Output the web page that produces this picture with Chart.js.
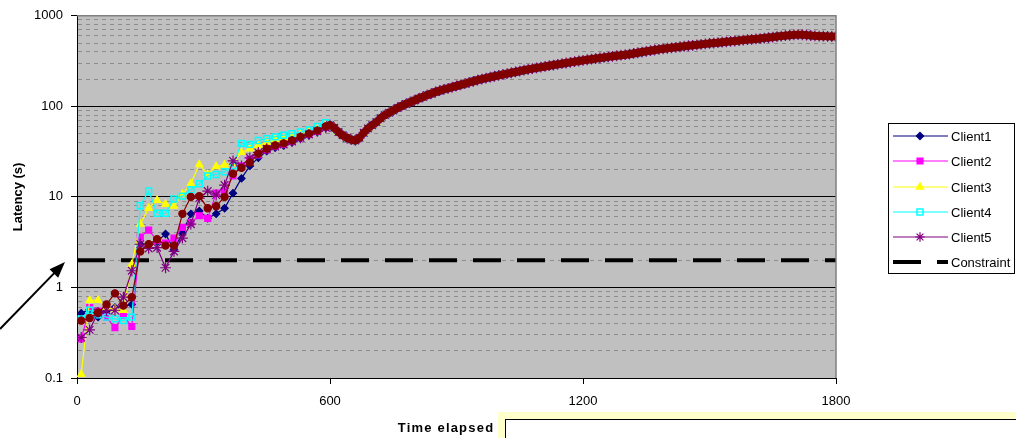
<!DOCTYPE html>
<html>
<head>
<meta charset="utf-8">
<script src="https://cdn.jsdelivr.net/npm/chart.js@4.4.0/dist/chart.umd.min.js"></script>
<style>
  html, body { margin: 0; padding: 0; background: #fff; }
  canvas { display: block; }
</style>
</head>
<body>
<canvas id="my-canvas" width="1016" height="438"></canvas>
<script>
// sample times (s) of the early, per-client part
const earlyTimes = [10, 30, 50, 70, 90, 110, 130, 150, 170, 190, 210, 230, 250, 270, 290,
  310, 330, 350, 370, 390, 410, 430, 450, 470, 490, 510, 530, 550, 570, 590]

// latency per client (s) at earlyTimes
const client1Early = [0.52, 0.57, 0.47, 0.55, 0.60, 0.62, 0.65, 3.0, 3.0, 3.2, 3.9, 2.6, 4.0, 6.5, 7.0,
  5.8, 6.5, 7.5, 11, 16, 22, 27, 32, 35, 37, 40, 44, 48, 52, 58]
const client2Early = [0.27, 0.60, 0.55, 0.47, 0.36, 0.49, 0.37, 3.6, 4.3, 3.3, 3.1, 3.5, 4.6, 5.2, 6.2,
  5.8, 11, 11.6, 17, 22, 26, 29, 33, 36, 38, 41, 45, 49, 53, 59]
const client3Early = [0.11, 0.72, 0.72, 0.60, 0.58, 0.56, 1.8, 5.0, 7.5, 9.2, 8.3, 7.9, 10.7, 14, 22.8,
  17.7, 21.7, 22.5, 23.4, 31, 34, 37, 40, 43, 44, 46, 49, 52, 56, 62]
const client4Early = [0.45, 0.56, 0.50, 0.47, 0.45, 0.43, 0.47, 8.0, 11.6, 6.6, 6.6, 9.5, 10.2, 12, 14,
  17, 17.7, 19, 22, 39, 38, 42, 44, 46, 48, 50, 52, 55, 60, 66]
const client5Early = [0.28, 0.34, 0.53, 0.56, 0.56, 0.78, 1.53, 3.0, 2.7, 2.75, 1.65, 2.5, 3.5, 5.0, 9.7,
  11.6, 10.5, 13.5, 25, 22, 27, 31, 34, 36, 38, 41, 45, 49, 53, 58]
const client6Early = [0.43, 0.46, 0.53, 0.65, 0.86, 0.63, 0.78, 2.5, 3.0, 3.4, 2.9, 2.9, 6.5, 10, 10.2,
  7.5, 7.9, 10, 18, 21, 24, 30, 34, 37, 39, 42, 46, 50, 54, 60]

// after ~600 s every client follows the same curve
const tailTimes = [600, 610, 620, 630, 640, 650, 660, 670, 680, 690,
  700, 710, 720, 730, 740, 750, 760, 770, 780, 790,
  800, 810, 820, 830, 840, 850, 860, 870, 880, 890,
  900, 910, 920, 930, 940, 950, 960, 970, 980, 990,
  1000, 1010, 1020, 1030, 1040, 1050, 1060, 1070, 1080, 1090,
  1100, 1110, 1120, 1130, 1140, 1150, 1160, 1170, 1180, 1190,
  1200, 1210, 1220, 1230, 1240, 1250, 1260, 1270, 1280, 1290,
  1300, 1310, 1320, 1330, 1340, 1350, 1360, 1370, 1380, 1390,
  1400, 1410, 1420, 1430, 1440, 1450, 1460, 1470, 1480, 1490,
  1500, 1510, 1520, 1530, 1540, 1550, 1560, 1570, 1580, 1590,
  1600, 1610, 1620, 1630, 1640, 1650, 1660, 1670, 1680, 1690,
  1700, 1710, 1720, 1730, 1740, 1750, 1760, 1770, 1780, 1790, 1800]
const tailValues = [62, 58, 52, 48, 45, 43, 42, 45, 51, 57,
  62, 67, 74, 80, 85, 90, 96, 101, 106, 111,
  116, 122, 127, 133, 138, 144, 149, 154, 158, 163,
  168, 173, 178, 184, 189, 195, 200, 205, 210, 215,
  220, 225, 230, 235, 240, 245, 251, 256, 261, 266,
  271, 276, 281, 286, 291, 296, 301, 306, 312, 317,
  322, 327, 332, 337, 342, 347, 352, 357, 362, 367,
  372, 377, 384, 391, 398, 405, 412, 419, 426, 432,
  438, 443, 449, 455, 461, 467, 472, 478, 484, 490,
  495, 500, 505, 511, 516, 522, 527, 533, 539, 545,
  550, 555, 561, 568, 575, 582, 590, 597, 604, 610,
  616, 620, 618, 612, 606, 600, 597, 595, 593, 591, 590]

const constraintTimes = [0, 1800]
const constraintValues = [2, 2]

const xTickValues = [0, 600, 1200, 1800]
const xTickLabels = ['0', '600', '1200', '1800']
const yTickValues = [0.1, 1, 10, 100, 1000]
const yTickLabels = ['0.1', '1', '10', '100', '1000']

window.onload = () => {

    const canvas = document.querySelector('#my-canvas')
    const ctx = canvas.getContext('2d')
    const fontFamily = "'Liberation Sans', Arial, sans-serif"

    // 1,2,..9 x each decade, for the grid
    const yGridValues = []
    for (let i = 0; i < yTickValues.length - 1; i++) {
        for (let m = 1; m < 10; m++) {
            yGridValues.push(Number((yTickValues[i] * m).toPrecision(3)))
        }
    }
    yGridValues.push(1000)
    const isMajor = (v) => yTickValues.indexOf(v) >= 0

    const allTimes = earlyTimes.concat(tailTimes)
    const points = (values, xs) => values.map((v, i) => ({ x: xs[i], y: v }))

    const series = [
        { label: 'Client1', early: client1Early, color: '#000080', style: 'rectRot', radius: 3.6, fill: '#000080' },
        { label: 'Client2', early: client2Early, color: '#FF00FF', style: 'rect', radius: 4.2, fill: '#FF00FF' },
        { label: 'Client3', early: client3Early, color: '#FFFF00', style: 'triangle', radius: 4.2, fill: '#FFFF00' },
        { label: 'Client4', early: client4Early, color: '#00FFFF', style: 'rect', radius: 4.2, fill: 'rgba(0,0,0,0)' },
        { label: 'Client5', early: client5Early, color: '#800080', style: 'star', radius: 5.4, fill: '#800080' },
        { label: 'Client6', early: client6Early, color: '#800000', style: 'circle', radius: 3.6, fill: '#800000' }
    ]

    const datasets = series.map((s, i) => ({
        label: s.label,
        data: points(s.early.concat(tailValues), allTimes),
        borderColor: s.color,
        backgroundColor: s.fill,
        borderWidth: 1.2,
        pointStyle: s.style,
        pointRadius: s.radius,
        pointBorderColor: s.color,
        pointBackgroundColor: s.fill,
        pointBorderWidth: i === 3 ? 1.5 : 1.2,
        tension: 0,
        order: 10 - i
    }))

    datasets.push({
        label: 'Constraint',
        data: points(constraintValues, constraintTimes),
        borderColor: '#000',
        borderWidth: 4,
        borderDash: [28, 16],
        pointRadius: 0,
        order: 20
    })

    const legendItems = series.slice(0, 5).concat([{ label: 'Constraint', dashed: true }])

    const drawMarker = (c, s, x, y) => {
        c.save()
        c.fillStyle = s.fill
        c.strokeStyle = s.color
        c.lineWidth = s.style === 'rect' && s.fill.indexOf('rgba') === 0 ? 1.5 : 1.2
        if (Chart.helpers && Chart.helpers.drawPoint) {
            Chart.helpers.drawPoint(c, { pointStyle: s.style, radius: Math.min(s.radius, 4.8), rotation: 0, borderWidth: c.lineWidth }, x, y)
        } else {
            c.beginPath()
            c.arc(x, y, s.radius, 0, Math.PI * 2)
            c.fill()
            c.stroke()
        }
        c.restore()
    }

    const decor = {
        id: 'decor',
        beforeDraw(chart) {
            const a = chart.chartArea
            const c = chart.ctx
            c.save()
            c.fillStyle = '#C0C0C0'
            c.fillRect(a.left, a.top, a.right - a.left, a.bottom - a.top)
            c.restore()
        },
        afterDraw(chart) {
            const a = chart.chartArea
            const c = chart.ctx
            c.save()

            // frame top / right
            c.strokeStyle = '#808080'
            c.lineWidth = 1.5
            c.beginPath()
            c.moveTo(a.left, a.top)
            c.lineTo(a.right, a.top)
            c.lineTo(a.right, a.bottom)
            c.stroke()

            // legend
            c.fillStyle = '#fff'
            c.fillRect(888.5, 123.5, 126, 150)
            c.strokeStyle = '#000'
            c.lineWidth = 1
            c.strokeRect(888.5, 123.5, 126, 150)
            const rowY = [136, 161, 187, 212, 237, 262]
            c.font = '13px ' + fontFamily
            c.textBaseline = 'middle'
            c.textAlign = 'left'
            legendItems.forEach((s, i) => {
                const y = rowY[i]
                c.save()
                if (s.dashed) {
                    c.strokeStyle = '#000'
                    c.lineWidth = 4
                    c.setLineDash([28, 16])
                } else {
                    c.strokeStyle = s.color
                    c.lineWidth = 1.2
                }
                c.beginPath()
                c.moveTo(893, y)
                c.lineTo(948, y)
                c.stroke()
                c.restore()
                if (!s.dashed) drawMarker(c, s, 920, y)
                c.fillStyle = '#000'
                c.fillText(s.label, 951, y + 1)
            })

            // x axis title
            c.font = 'bold 13px ' + fontFamily
            c.fillStyle = '#000'
            c.textAlign = 'center'
            c.textBaseline = 'middle'
            if ('letterSpacing' in c) c.letterSpacing = '1.2px'
            c.fillText('Time elapsed', 446, 428)
            if ('letterSpacing' in c) c.letterSpacing = '0px'

            // note box under the chart
            c.fillStyle = '#FFFFCC'
            c.fillRect(498, 412, 518, 26)
            c.fillStyle = '#fff'
            c.fillRect(505.5, 419.5, 520, 30)
            c.strokeStyle = '#000'
            c.lineWidth = 1
            c.strokeRect(505.5, 419.5, 520, 30)

            // arrow
            c.strokeStyle = '#000'
            c.fillStyle = '#000'
            c.lineWidth = 2
            const x0 = 0, y0 = 329, x1 = 65, y1 = 262
            const ang = Math.atan2(y1 - y0, x1 - x0)
            c.beginPath()
            c.moveTo(x0, y0)
            c.lineTo(x1 - 12 * Math.cos(ang), y1 - 12 * Math.sin(ang))
            c.stroke()
            c.beginPath()
            c.moveTo(x1, y1)
            c.lineTo(x1 - 16 * Math.cos(ang) + 6 * Math.sin(ang), y1 - 16 * Math.sin(ang) - 6 * Math.cos(ang))
            c.lineTo(x1 - 16 * Math.cos(ang) - 6 * Math.sin(ang), y1 - 16 * Math.sin(ang) + 6 * Math.cos(ang))
            c.closePath()
            c.fill()

            c.restore()
        }
    }

    new Chart(ctx, {
        type: 'line',
        data: { datasets: datasets },
        plugins: [decor],
        options: {
            responsive: false,
            animation: false,
            layout: { padding: { left: 0, top: 13, right: 180, bottom: 0 } },
            plugins: {
                legend: { display: false },
                tooltip: { enabled: false }
            },
            scales: {
                x: {
                    type: 'linear',
                    min: 0,
                    max: 1800,
                    afterBuildTicks: (scale) => { scale.ticks = xTickValues.map(v => ({ value: v })) },
                    afterFit: (scale) => { scale.height = 60 },
                    grid: { drawOnChartArea: false, tickLength: 6, tickColor: '#000' },
                    border: { color: '#000', width: 1 },
                    ticks: {
                        color: '#000',
                        font: { family: fontFamily, size: 13 },
                        padding: 10,
                        maxRotation: 0,
                        autoSkip: false,
                        callback: (v) => xTickLabels[xTickValues.indexOf(v)]
                    },
                    title: { display: false }
                },
                y: {
                    type: 'logarithmic',
                    min: 0.1,
                    max: 1000,
                    afterBuildTicks: (scale) => { scale.ticks = yGridValues.map(v => ({ value: v })) },
                    afterFit: (scale) => { scale.width = 77 },
                    grid: {
                        color: (c) => c.tick && isMajor(c.tick.value) ? '#000' : '#8c8c8c',
                        tickColor: (c) => c.tick && isMajor(c.tick.value) ? '#000' : 'rgba(0,0,0,0)',
                        tickLength: 6,
                        lineWidth: 1
                    },
                    border: {
                        color: '#000',
                        width: 1,
                        dash: (c) => (c.tick && !isMajor(c.tick.value)) ? [4, 4] : []
                    },
                    ticks: {
                        color: '#000',
                        font: { family: fontFamily, size: 13 },
                        padding: 8,
                        autoSkip: false,
                        callback: (v) => isMajor(v) ? yTickLabels[yTickValues.indexOf(v)] : ''
                    },
                    title: {
                        display: true,
                        text: 'Latency (s)',
                        color: '#000',
                        font: { family: fontFamily, size: 13, weight: 'bold' },
                        padding: { top: 11, bottom: 0 }
                    }
                }
            }
        }
    })
}
</script>
</body>
</html>
